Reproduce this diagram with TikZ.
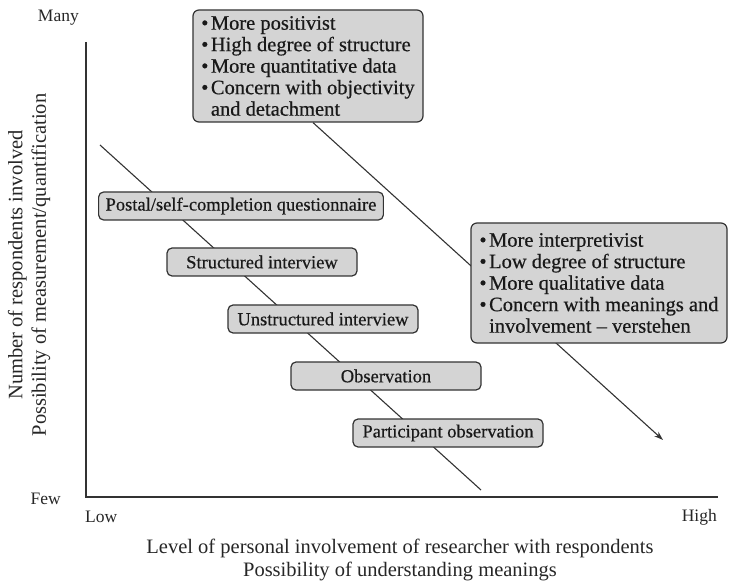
\documentclass[tikz,border=0pt]{standalone}
\usepackage{fontspec}
\setmainfont{Liberation Serif}
\newfontfamily\boxfont[FakeBold=0.5]{Liberation Serif}
\usetikzlibrary{arrows.meta}
\pgfdeclarelayer{background}
\pgfsetlayers{background,main}
\newcommand{\bul}{•\kern2.5pt}
\begin{document}
\begin{tikzpicture}[x=1pt,y=-1pt,
  axisline/.style={draw=black!80,line width=1.3pt},
  diag/.style={draw=black!80,line width=1.1pt},
  methodbox/.style={draw=black!80,line width=1.2pt,rounded corners=5pt,fill=black!17,
    minimum width=190pt,minimum height=28pt,inner xsep=7pt,inner ysep=2pt,
    text=black!90,font=\boxfont\fontsize{18.5}{22}\selectfont},
  bulletbox/.style={draw=black!80,line width=1.2pt,rounded corners=6pt,fill=black!17,
    align=left,inner xsep=7pt,inner ysep=4pt,text=black!90,
    font=\boxfont\fontsize{20.5}{21.5}\selectfont},
  tick/.style={text=black!85,font=\fontsize{17.5}{20}\selectfont,inner sep=0pt},
  axislabel/.style={text=black!85,font=\fontsize{20.5}{23.5}\selectfont,align=center,inner sep=0pt}
]
\useasboundingbox (0,0) rectangle (732,583);

% axes
\coordinate (ytop) at (86,42);
\coordinate (origin) at (86,497);
\coordinate (xend) at (718,497);
\draw[axisline] (ytop) -- (origin) -- (xend);

% axis end labels
\node[tick,anchor=east] (many) at (79,18) {Many};
\node[tick,anchor=east] (few) at (61,499) {Few};
\node[tick,anchor=west] (low) at (85,517) {Low};
\node[tick,anchor=east] (high) at (717,517) {High};

% axis titles
\node[axislabel] (xlab) at (400,560) {Level of personal involvement of researcher with respondents\\Possibility of understanding meanings};
\node[axislabel,rotate=90] (ylab) at (29,265) {Number of respondents involved\\Possibility of measurement/quantification};

% bullet boxes
\node[bulletbox,minimum width=230pt,minimum height=112pt] (top) at (308,66)
 {\bul More positivist\\\bul High degree of structure\\\bul More quantitative data\\\bul Concern with objectivity\\\phantom{\bul}and detachment};
\node[bulletbox,minimum width=256pt,minimum height=120pt] (right) at (599,283)
 {\bul More interpretivist\\\bul Low degree of structure\\\bul More qualitative data\\\bul Concern with meanings and\\\phantom{\bul}involvement – verstehen};

% method boxes
\node[methodbox] (postal) at (241,206) {Postal/self-completion questionnaire};
\node[methodbox] (struct) at (262,262) {Structured interview};
\node[methodbox] (unstruct) at (323,319) {Unstructured interview};
\node[methodbox] (obs) at (386,376) {Observation};
\node[methodbox] (part) at (448,433) {Participant observation};

% lines behind the boxes
\coordinate (d1) at (100,145);
\coordinate (d2) at (481,490);
\coordinate (aend) at (663,440);
\begin{pgfonlayer}{background}
\draw[diag] (d1) -- (d2);
\draw[diag,-{Stealth[length=9pt,width=6pt]}] ([xshift=5pt]top.south) -- (aend);
\end{pgfonlayer}
\end{tikzpicture}
\end{document}
